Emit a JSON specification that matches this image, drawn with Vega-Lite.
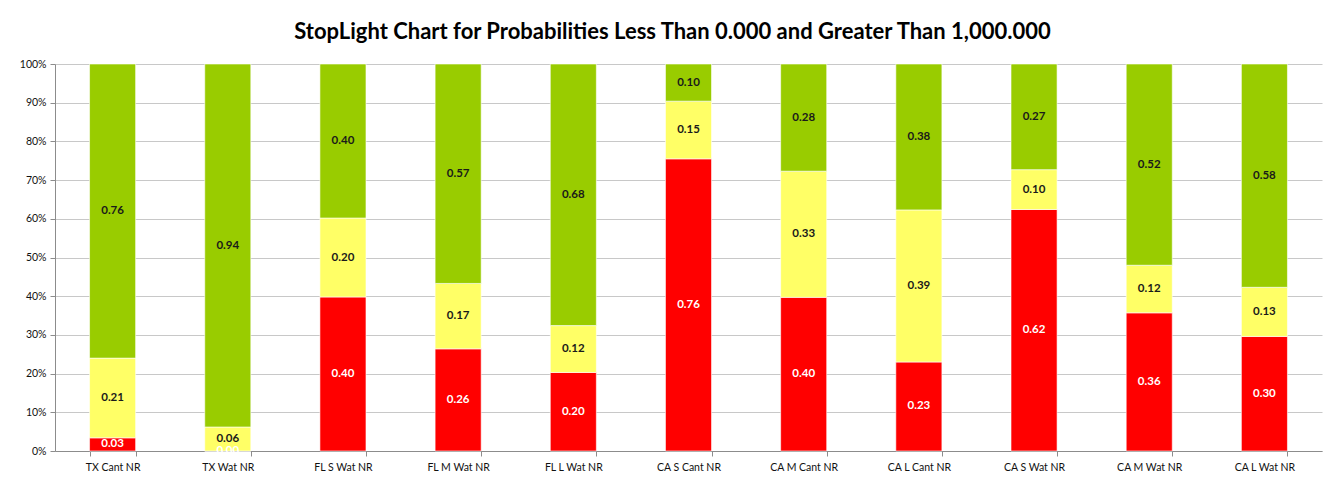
{
  "$schema": "https://vega.github.io/schema/vega-lite/v6.json",
  "width": 1267,
  "height": 387,
  "autosize": {"type": "none"},
  "padding": {"left": 55, "top": 64, "right": 19, "bottom": 35},
  "background": "white",
  "title": {
    "text": "StopLight Chart for Probabilities Less Than 0.000 and Greater Than 1,000.000",
    "font": "Lato",
    "fontSize": 22,
    "fontWeight": "bold",
    "color": "#000000",
    "anchor": "middle",
    "dx": -16,
    "offset": 15
  },
  "config": {
    "view": {"stroke": null},
    "font": "Lato",
    "axisY": {
      "format": ".0%",
      "values": [0, 0.1, 0.2, 0.3, 0.4, 0.5, 0.6, 0.7, 0.8, 0.9, 1.0],
      "labelOverlap": false,
      "labelFont": "Lato",
      "labelFontSize": 10.5,
      "labelColor": "#111111",
      "tickSize": 5,
      "tickColor": "#8c8c8c",
      "domainColor": "#8c8c8c",
      "gridColor": "#c8c8c8",
      "gridWidth": 1,
      "labelPadding": 4,
      "title": null
    }
  },
  "data": {
    "values": [
      {"cat": "TX Cant NR", "level": "red", "ord": 1, "value": 0.034},
      {"cat": "TX Cant NR", "level": "yellow", "ord": 2, "value": 0.206},
      {"cat": "TX Cant NR", "level": "green", "ord": 3, "value": 0.76},
      {"cat": "TX Wat NR", "level": "red", "ord": 1, "value": 0.0},
      {"cat": "TX Wat NR", "level": "yellow", "ord": 2, "value": 0.062},
      {"cat": "TX Wat NR", "level": "green", "ord": 3, "value": 0.938},
      {"cat": "FL S Wat NR", "level": "red", "ord": 1, "value": 0.398},
      {"cat": "FL S Wat NR", "level": "yellow", "ord": 2, "value": 0.204},
      {"cat": "FL S Wat NR", "level": "green", "ord": 3, "value": 0.398},
      {"cat": "FL M Wat NR", "level": "red", "ord": 1, "value": 0.264},
      {"cat": "FL M Wat NR", "level": "yellow", "ord": 2, "value": 0.169},
      {"cat": "FL M Wat NR", "level": "green", "ord": 3, "value": 0.567},
      {"cat": "FL L Wat NR", "level": "red", "ord": 1, "value": 0.203},
      {"cat": "FL L Wat NR", "level": "yellow", "ord": 2, "value": 0.121},
      {"cat": "FL L Wat NR", "level": "green", "ord": 3, "value": 0.676},
      {"cat": "CA S Cant NR", "level": "red", "ord": 1, "value": 0.755},
      {"cat": "CA S Cant NR", "level": "yellow", "ord": 2, "value": 0.149},
      {"cat": "CA S Cant NR", "level": "green", "ord": 3, "value": 0.096},
      {"cat": "CA M Cant NR", "level": "red", "ord": 1, "value": 0.397},
      {"cat": "CA M Cant NR", "level": "yellow", "ord": 2, "value": 0.326},
      {"cat": "CA M Cant NR", "level": "green", "ord": 3, "value": 0.277},
      {"cat": "CA L Cant NR", "level": "red", "ord": 1, "value": 0.23},
      {"cat": "CA L Cant NR", "level": "yellow", "ord": 2, "value": 0.393},
      {"cat": "CA L Cant NR", "level": "green", "ord": 3, "value": 0.377},
      {"cat": "CA S Wat NR", "level": "red", "ord": 1, "value": 0.624},
      {"cat": "CA S Wat NR", "level": "yellow", "ord": 2, "value": 0.103},
      {"cat": "CA S Wat NR", "level": "green", "ord": 3, "value": 0.273},
      {"cat": "CA M Wat NR", "level": "red", "ord": 1, "value": 0.357},
      {"cat": "CA M Wat NR", "level": "yellow", "ord": 2, "value": 0.123},
      {"cat": "CA M Wat NR", "level": "green", "ord": 3, "value": 0.52},
      {"cat": "CA L Wat NR", "level": "red", "ord": 1, "value": 0.296},
      {"cat": "CA L Wat NR", "level": "yellow", "ord": 2, "value": 0.127},
      {"cat": "CA L Wat NR", "level": "green", "ord": 3, "value": 0.577}
    ]
  },
  "transform": [
    {"stack": "value", "groupby": ["cat"], "sort": [{"field": "ord", "order": "ascending"}], "as": ["y0", "y1"], "offset": "normalize"},
    {"calculate": "(datum.y0 + datum.y1) / 2", "as": "ymid"}
  ],
  "encoding": {
    "x": {
      "field": "cat",
      "type": "nominal",
      "sort": null,
      "title": null,
      "scale": {"paddingInner": 0.6, "paddingOuter": 0.3},
      "axis": {
        "labelAngle": 0,
        "labelFont": "Lato",
        "labelFontSize": 10.5,
        "labelColor": "#111111",
        "labelPadding": 6,
        "tickBand": "extent",
        "tickSize": 5,
        "tickColor": "#8c8c8c",
        "domainColor": "#8c8c8c",
        "grid": false
      }
    }
  },
  "layer": [
    {
      "mark": {"type": "bar", "stroke": "white", "strokeWidth": 0.6},
      "encoding": {
        "y": {
          "field": "y0",
          "type": "quantitative",
          "scale": {"domain": [0, 1]},
          "title": null,
          "axis": {"values": [0, 0.1, 0.2, 0.3, 0.4, 0.5, 0.6, 0.7, 0.8, 0.9, 1.0], "labelOverlap": false, "format": ".0%"}
        },
        "y2": {"field": "y1"},
        "color": {
          "field": "level",
          "type": "nominal",
          "scale": {"domain": ["red", "yellow", "green"], "range": ["#FF0000", "#FFFF66", "#99CC00"]},
          "legend": null
        }
      }
    },
    {
      "mark": {"type": "text", "font": "Lato", "fontSize": 11.5, "fontWeight": "bold", "baseline": "middle"},
      "encoding": {
        "y": {
          "field": "ymid",
          "type": "quantitative",
          "title": null,
          "axis": {"values": [0, 0.1, 0.2, 0.3, 0.4, 0.5, 0.6, 0.7, 0.8, 0.9, 1.0], "labelOverlap": false, "format": ".0%"}
        },
        "text": {"field": "value", "type": "quantitative", "format": ".2f"},
        "color": {
          "condition": {"test": "datum.level === 'red'", "value": "white"},
          "value": "#1a1a1a"
        }
      }
    }
  ]
}
